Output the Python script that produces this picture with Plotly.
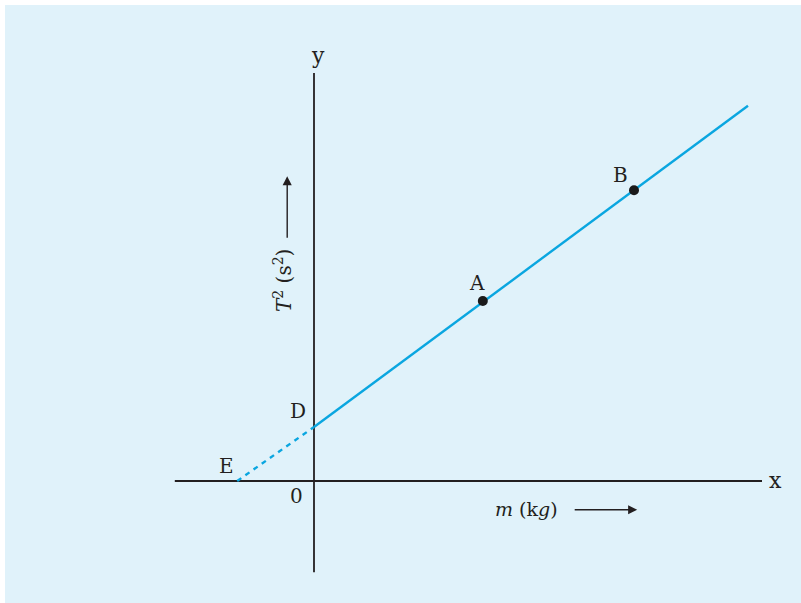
import plotly.graph_objects as go

# points (x: m, y: T^2), arbitrary units
point_labels = ["E", "D", "A", "B"]
point_x = [-1.92, 0.0, 4.22, 8.0]
point_y = [0.0, 1.35, 4.5, 7.27]

# solid part of the straight line (D onwards) and its dashed extension to E
solid_x = [0.0, 10.85]
solid_y = [1.35, 9.38]
dashed_x = [-1.92, 0.0]
dashed_y = [0.0, 1.35]

# drawn axes
x_axis_x = [-3.48, 11.2]
y_axis_y = [-2.28, 10.2]

# figure sits 5px in from the page corner, ranges account for that
X_RANGE = [-7.725, 12.3]
Y_RANGE = [-3.175, 11.9]

BG = '#e0f2fa'
INK = '#231f20'
LINE = '#0aa6e0'
FONT = 'DejaVu Serif'

fig = go.Figure()

fig.add_trace(go.Scatter(x=x_axis_x, y=[0, 0], mode='lines',
                         line=dict(color=INK, width=1.8), hoverinfo='skip'))
fig.add_trace(go.Scatter(x=[0, 0], y=y_axis_y, mode='lines',
                         line=dict(color=INK, width=1.8), hoverinfo='skip'))

fig.add_trace(go.Scatter(x=dashed_x, y=dashed_y, mode='lines',
                         line=dict(color=LINE, width=2.4, dash='5px,5px')))
fig.add_trace(go.Scatter(x=solid_x, y=solid_y, mode='lines',
                         line=dict(color=LINE, width=2.4)))

# the two marked points A and B
fig.add_trace(go.Scatter(x=point_x[2:], y=point_y[2:], mode='markers',
                         marker=dict(color='#1a1a1a', size=10)))

# point letters
offsets = {"E": (-0.28, 0.37), "D": (-0.4, 0.4), "A": (-0.15, 0.45), "B": (-0.33, 0.38)}
for lab, px, py_ in zip(point_labels, point_x, point_y):
    dx, dy = offsets[lab]
    fig.add_annotation(x=px + dx, y=py_ + dy, text=lab, showarrow=False,
                       font=dict(family=FONT, size=20, color=INK))

fig.add_annotation(x=-0.45, y=-0.38, text="0", showarrow=False,
                   font=dict(family=FONT, size=20, color=INK))
fig.add_annotation(x=11.53, y=0.02, text="x", showarrow=False,
                   font=dict(family=FONT, size=22, color=INK))
fig.add_annotation(x=0.1, y=10.65, text="y", showarrow=False,
                   font=dict(family=FONT, size=22, color=INK))

# axis titles with arrows
fig.add_annotation(x=5.3, y=-0.7, text="<i>m</i> (k<i>g</i>)", showarrow=False,
                   font=dict(family=FONT, size=19, color=INK))
fig.add_annotation(x=8.08, y=-0.72, ax=-64, ay=0, text="", showarrow=True,
                   arrowhead=2, arrowsize=1.3, arrowwidth=1.4, arrowcolor=INK)
fig.add_annotation(x=-0.78, y=5.02, text="<i>T</i><sup>2</sup> (s<sup>2</sup>)",
                   textangle=-90, showarrow=False,
                   font=dict(family=FONT, size=20, color=INK))
fig.add_annotation(x=-0.67, y=7.62, ax=0, ay=63, text="", showarrow=True,
                   arrowhead=2, arrowsize=1.3, arrowwidth=1.4, arrowcolor=INK)

fig.update_layout(width=801, height=603, margin=dict(l=0, r=0, t=0, b=0),
                  paper_bgcolor=BG, plot_bgcolor=BG, showlegend=False,
                  xaxis=dict(range=X_RANGE, visible=False, fixedrange=True),
                  yaxis=dict(range=Y_RANGE, visible=False, fixedrange=True))

# thin white edge only at top and left, panel colour everywhere else
page_js = ("document.documentElement.style.background='" + BG + "';"
           "var b=document.body;b.style.margin='0';b.style.overflow='hidden';"
           "b.style.borderTop='5px solid white';b.style.borderLeft='5px solid white';")
fig.write_html("out.html", post_script=page_js)
